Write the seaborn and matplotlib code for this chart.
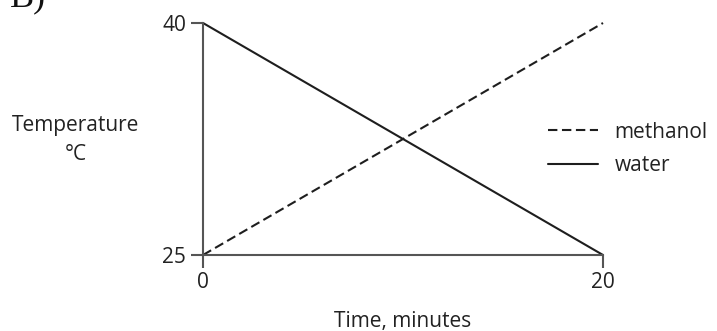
import matplotlib
matplotlib.use("Agg")
import matplotlib.pyplot as plt
import seaborn as sns
import pandas as pd

time_min = [0, 20]
methanol = [25, 40]
water = [40, 25]
series_names = ["methanol", "water"]
x_ticks = [0, 20]
y_ticks = [25, 40]

sns.set_theme(style="white")
plt.rcParams['font.family'] = ['Open Sans', 'DejaVu Sans']

df = pd.DataFrame({
    "time": time_min + time_min,
    "temp": methanol + water,
    "substance": [series_names[0]] * len(time_min) + [series_names[1]] * len(time_min),
})

W, H = 717, 331
fig = plt.figure(figsize=(W / 100, H / 100), dpi=100)
ax = fig.add_axes([203 / W, 1 - 255 / H, 400 / W, 232 / H])

sns.lineplot(data=df, x="time", y="temp", style="substance",
             dashes={"methanol": (4.5, 2.2), "water": ""}, color="#1e1e1e",
             linewidth=1.5, ax=ax, legend=True)
for ln in ax.lines:
    ln.set_clip_on(False)

ax.set_xlim(0, 20)
ax.set_ylim(25, 40)
ax.set_xticks(x_ticks)
ax.set_yticks(y_ticks)
ax.tick_params(axis="both", direction="out", length=9, width=1.5, color="#555555",
               labelsize=15, labelcolor="#222222", pad=3, bottom=True, left=True)
for s in ["top", "right"]:
    ax.spines[s].set_visible(False)
for s in ["left", "bottom"]:
    ax.spines[s].set_color("#555555")
    ax.spines[s].set_linewidth(1.5)

ax.set_xlabel("Time, minutes", fontsize=15, color="#222222")
ax.xaxis.label.set_va("center")
ax.xaxis.set_label_coords(0.5, (255 - 322) / 232)
ax.set_ylabel("")
fig.text(76 / W, 1 - 140 / H, "Temperature\n°C", ha="center", va="center",
         fontsize=15, color="#222222", linespacing=1.5)

leg = ax.legend(title=None, frameon=False, fontsize=15, handlelength=2.4,
                handletextpad=0.8, labelspacing=0.6, loc="center left",
                bbox_to_anchor=(548 / W, 1 - 149 / H),
                bbox_transform=fig.transFigure, borderaxespad=0, borderpad=0)
for t in leg.get_texts():
    t.set_color("#222222")

fig.text(10 / W, 1 - 6 / H, "B)", ha="left", va="baseline", fontsize=26,
         family="Liberation Serif", color="#111111")

fig.savefig("out.png", dpi=100)
